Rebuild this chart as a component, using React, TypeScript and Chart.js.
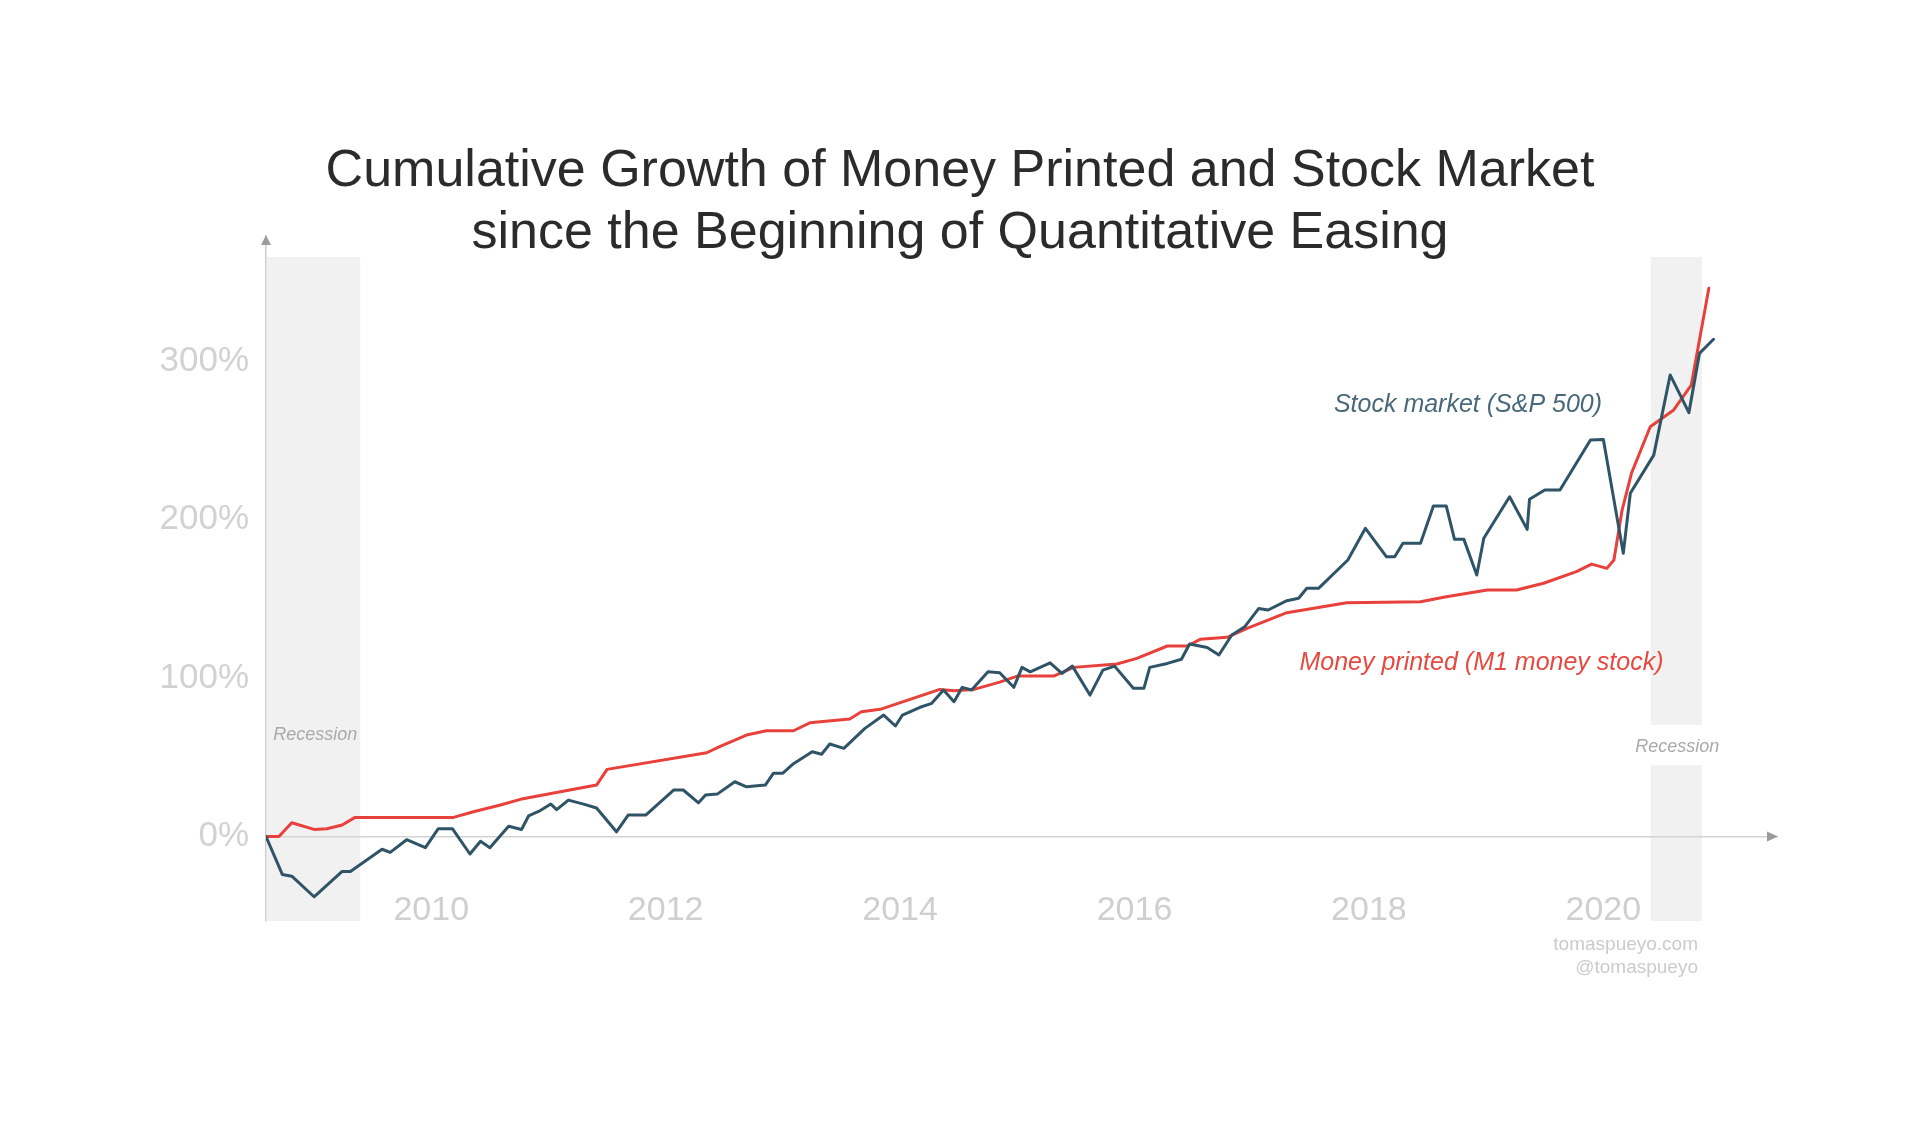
import React, { useEffect, useRef } from "react";
import { Chart, registerables } from "chart.js";

Chart.register(...registerables);

const FONT = "'Liberation Sans', 'Helvetica Neue', Arial, sans-serif";

const titleLines = [
  "Cumulative Growth of Money Printed and Stock Market",
  "since the Beginning of Quantitative Easing",
];
const yearTicks = [2010, 2012, 2014, 2016, 2018, 2020];
const percentTicks = [0, 100, 200, 300];

const stockDates = [
  2008.59, 2008.73, 2008.81, 2009.0, 2009.24, 2009.31, 2009.58, 2009.65, 2009.79, 2009.95,
  2010.06, 2010.18, 2010.33, 2010.42, 2010.5, 2010.66, 2010.77, 2010.83, 2010.92, 2011.02,
  2011.07, 2011.17, 2011.3, 2011.41, 2011.58, 2011.68, 2011.83, 2012.07, 2012.15, 2012.28,
  2012.34, 2012.44, 2012.59, 2012.69, 2012.85, 2012.92, 2013.0, 2013.09, 2013.25, 2013.33,
  2013.4, 2013.52, 2013.7, 2013.86, 2013.96, 2014.02, 2014.17, 2014.27, 2014.37, 2014.46,
  2014.53, 2014.61, 2014.75, 2014.85, 2014.97, 2015.04, 2015.11, 2015.28, 2015.38, 2015.47,
  2015.62, 2015.73, 2015.83, 2015.99, 2016.08, 2016.13, 2016.28, 2016.4, 2016.47, 2016.62,
  2016.72, 2016.83, 2016.94, 2017.06, 2017.14, 2017.3, 2017.4, 2017.47, 2017.57, 2017.82,
  2017.97, 2018.15, 2018.22, 2018.29, 2018.44, 2018.55, 2018.66, 2018.73, 2018.81, 2018.92,
  2018.98, 2019.2, 2019.35, 2019.37, 2019.5, 2019.63, 2019.89, 2020.0, 2020.17, 2020.23,
  2020.43, 2020.57, 2020.73, 2020.82, 2020.94,
];
const stockValues = [
  0, -24, -25, -38, -22, -22, -8, -10, -2, -7,
  5, 5, -11, -3, -7, 6.5, 4.5, 13, 16, 20.5,
  17, 23, 20.5, 18, 3, 13.6, 13.6, 29.4, 29.4, 21.3,
  26.2, 26.8, 34.6, 31.4, 32.5, 40, 40, 46, 53.5, 52,
  58.4, 55.7, 68.3, 76.7, 69.8, 76.7, 81.6, 84.1, 92.5, 85.1,
  94.2, 92.5, 104, 103.4, 94.2, 106.8, 104, 109.7, 103, 107.6,
  89.3, 105.1, 107.6, 93.6, 93.6, 106.8, 109.3, 111.9, 121.5, 119.4,
  114.6, 127.2, 132.4, 144, 143, 148.9, 150.4, 156.7, 156.7, 174.6,
  194.6, 176.6, 176.6, 185.1, 185.1, 208.6, 208.6, 187.6, 187.6, 165.1,
  188.3, 214.5, 193.9, 212.9, 218.8, 218.8, 250.3, 250.7, 178.8, 216.7,
  240.8, 291.4, 267.6, 305, 313.9,
];

const moneyDates = [
  2008.59, 2008.7, 2008.81, 2009.0, 2009.11, 2009.24, 2009.35, 2010.19, 2010.36, 2010.59,
  2010.76, 2011.41, 2011.5, 2012.35, 2012.47, 2012.69, 2012.86, 2013.09, 2013.23, 2013.57,
  2013.67, 2013.83, 2014.34, 2014.46, 2014.63, 2014.85, 2015.0, 2015.31, 2015.48, 2015.85,
  2016.02, 2016.28, 2016.45, 2016.56, 2016.79, 2016.96, 2017.3, 2017.81, 2018.44, 2018.66,
  2019.01, 2019.26, 2019.49, 2019.77, 2019.9, 2020.03, 2020.09, 2020.16, 2020.24, 2020.4,
  2020.6, 2020.75, 2020.9,
];
const moneyValues = [
  0, 0, 8.7, 4.5, 4.9, 7.3, 12.1, 12.1, 15.7, 19.9,
  23.5, 32.5, 42.4, 52.9, 57.1, 64.1, 66.8, 66.8, 71.8, 74.2,
  78.8, 80.3, 92.9, 92, 92.9, 97.5, 101.3, 101.3, 106.8, 108.9,
  112.5, 120.3, 120.3, 124.5, 125.8, 131.4, 141.3, 147.6, 148.2, 151.4,
  155.6, 155.6, 159.9, 167.2, 172, 169.3, 174.6, 206.1, 229.3, 258.7,
  269.3, 285, 346.1,
];

const recessionStart = [2008.59, 2020.404];
const recessionEnd = [2009.394, 2020.841];
const seriesLabels = ["Stock market (S&P 500)", "Money printed (M1 money stock)"];
const recessionLabel = "Recession";
const creditLines = ["tomaspueyo.com", "@tomaspueyo"];

const X_MIN = 2008.59;
const X_MAX = 2021.49;
const Y_MIN = -53.3;
const Y_MAX = 379.1;
const BAND_TOP = 365.8;
const X_LABEL_ROW = -34;

const decorPlugin = {
  id: "decor",
  beforeDraw(chart: any) {
    const { ctx, chartArea, scales } = chart;
    const x = scales.x;
    const y = scales.y;
    ctx.save();
    ctx.fillStyle = "#f1f1f1";
    const top = y.getPixelForValue(BAND_TOP);
    const bottom = chartArea.bottom;
    recessionStart.forEach((s, i) => {
      const x0 = Math.max(x.getPixelForValue(s), chartArea.left + 1);
      const x1 = x.getPixelForValue(recessionEnd[i]);
      if (i === 1) {
        const gTop = y.getPixelForValue(70.5);
        const gBot = y.getPixelForValue(45);
        ctx.fillRect(x0, top, x1 - x0, gTop - top);
        ctx.fillRect(x0, gBot, x1 - x0, bottom - gBot);
      } else {
        ctx.fillRect(x0, top, x1 - x0, bottom - top);
      }
    });
    ctx.restore();
  },
  afterDraw(chart: any) {
    const { ctx, chartArea, scales } = chart;
    const x = scales.x;
    const y = scales.y;
    ctx.save();
    // axis arrows
    ctx.fillStyle = "#9c9c9c";
    const L = chartArea.left;
    const T = chartArea.top;
    ctx.beginPath();
    ctx.moveTo(L, T - 1);
    ctx.lineTo(L - 5, T + 9);
    ctx.lineTo(L + 5, T + 9);
    ctx.closePath();
    ctx.fill();
    const R = chartArea.right;
    const y0 = y.getPixelForValue(0);
    ctx.beginPath();
    ctx.moveTo(R, y0);
    ctx.lineTo(R - 11, y0 - 5);
    ctx.lineTo(R - 11, y0 + 5);
    ctx.closePath();
    ctx.fill();

    ctx.textAlign = "center";
    ctx.textBaseline = "middle";
    ctx.font = `italic 25px ${FONT}`;
    ctx.fillStyle = "#48687a";
    ctx.fillText(seriesLabels[0], x.getPixelForValue(2018.845), y.getPixelForValue(272.4));
    ctx.fillStyle = "#e5493f";
    ctx.fillText(seriesLabels[1], x.getPixelForValue(2018.96), y.getPixelForValue(109.8));

    ctx.font = `italic 18px ${FONT}`;
    ctx.fillStyle = "#a9a9a9";
    ctx.fillText(recessionLabel, x.getPixelForValue(2009.01), y.getPixelForValue(64));
    ctx.fillText(recessionLabel, x.getPixelForValue(2020.63), y.getPixelForValue(56.5));

    ctx.font = `19px ${FONT}`;
    ctx.fillStyle = "#cbcbcb";
    ctx.textAlign = "right";
    ctx.fillText(creditLines[0], chartArea.right - 80, chartArea.bottom + 24);
    ctx.fillText(creditLines[1], chartArea.right - 80, chartArea.bottom + 47);
    ctx.restore();
  },
};

export default function App() {
  const ref = useRef<HTMLCanvasElement>(null);
  useEffect(() => {
    document.body.style.margin = "0";
    const canvas = ref.current;
    if (!canvas) return;
    const chart = new Chart(canvas, {
      type: "line",
      data: {
        datasets: [
          {
            label: seriesLabels[0],
            data: stockDates.map((d, i) => ({ x: d, y: stockValues[i] })),
            borderColor: "#2f5467",
            borderWidth: 3,
            pointRadius: 0,
            tension: 0,
            borderJoinStyle: "round",
            borderCapStyle: "round",
          },
          {
            label: seriesLabels[1],
            data: moneyDates.map((d, i) => ({ x: d, y: moneyValues[i] })),
            borderColor: "#e8403a",
            borderWidth: 3,
            pointRadius: 0,
            tension: 0,
            borderJoinStyle: "round",
            borderCapStyle: "round",
          },
        ],
      },
      options: {
        responsive: false,
        animation: false,
        layout: { padding: { top: 141, left: 142, right: 142, bottom: 210 } },
        plugins: {
          legend: { display: false },
          tooltip: { enabled: false },
          title: {
            display: true,
            text: titleLines,
            color: "#2b2b2b",
            font: { family: FONT, size: 52, weight: "normal", lineHeight: 62 / 52 },
            padding: { top: 0, bottom: -29 },
          },
        },
        scales: {
          x: {
            type: "linear",
            min: X_MIN,
            max: X_MAX,
            position: { y: X_LABEL_ROW },
            afterBuildTicks: (s: any) => {
              s.ticks = yearTicks.map((v) => ({ value: v }));
            },
            grid: { display: false, drawTicks: false },
            border: { display: false },
            ticks: {
              padding: 0,
              color: "#cfcfcf",
              autoSkip: false,
              maxRotation: 0,
              font: { family: FONT, size: 34 },
              callback: (v: any) => String(v),
            },
          },
          y: {
            type: "linear",
            min: Y_MIN,
            max: Y_MAX,
            afterFit: (s: any) => {
              s.width = 124;
            },
            afterBuildTicks: (s: any) => {
              s.ticks = percentTicks.map((v) => ({ value: v }));
            },
            grid: {
              drawTicks: false,
              lineWidth: 1.5,
              color: (c: any) => (c.tick && c.tick.value === 0 ? "#d3d3d3" : "rgba(0,0,0,0)"),
            },
            border: { display: true, color: "#cdcdcd", width: 1.5 },
            ticks: {
              padding: 17,
              color: "#d2d2d2",
              font: { family: FONT, size: 35 },
              callback: (v: any) => v + "%",
            },
          },
        },
      },
      plugins: [decorPlugin],
    } as any);
    return () => chart.destroy();
  }, []);
  return (
    <div style={{ width: 1920, height: 1131, background: "#fff" }}>
      <canvas ref={ref} width={1920} height={1131} style={{ display: "block" }} />
    </div>
  );
}
